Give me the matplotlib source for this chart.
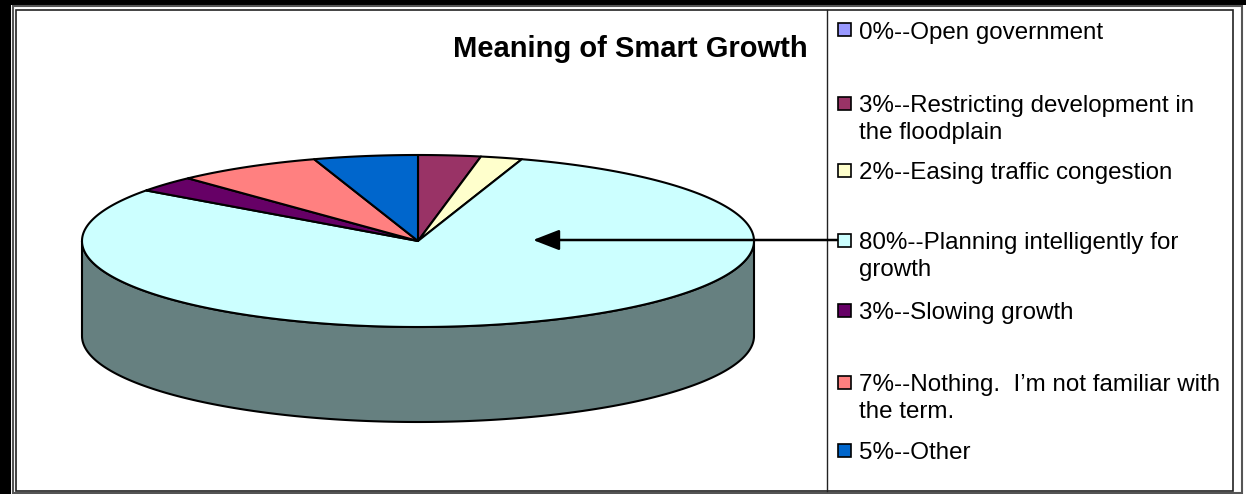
import numpy as np
import matplotlib
matplotlib.use("Agg")
import matplotlib.pyplot as plt
from matplotlib.patches import Polygon, Rectangle

plt.rcParams['font.family'] = ['Liberation Sans', 'DejaVu Sans']

# data
labels = ['0%--Open government',
          '3%--Restricting development in\nthe floodplain',
          '2%--Easing traffic congestion',
          '80%--Planning intelligently for\ngrowth',
          '3%--Slowing growth',
          '7%--Nothing.  I\u2019m not familiar with\nthe term.',
          '5%--Other']
values = [0, 3, 2, 80, 3, 7, 5]
colors = ['#9999FF', '#993366', '#FFFFCC', '#CCFFFF', '#660066', '#FF8080', '#0066CC']
side_color = '#668080'
title = 'Meaning of Smart Growth'

# layout in pixel units (y grows downward)
W, H = 1246, 494
cx, cy = 418, 241
rx, ry = 336, 86
depth = 95

fig = plt.figure(figsize=(W / 100, H / 100), dpi=100)
ax = fig.add_axes([0, 0, 1, 1])
ax.set_xlim(0, W)
ax.set_ylim(H, 0)
ax.axis('off')


def rim(theta):
    # theta in degrees, 0 at top, clockwise
    t = np.radians(theta)
    return cx + rx * np.sin(t), cy - ry * np.cos(t)


# frame
ax.add_patch(Rectangle((0, 0), W, 5, color='black', lw=0))
ax.add_patch(Rectangle((0, 0), 11, H, color='black', lw=0))
ax.add_patch(Rectangle((12.5, 6), 1242 - 12.5, 487, fill=False, ec='#555555', lw=1.5))
ax.add_patch(Rectangle((15.5, 10), 1233 - 15.5, 481, fill=False, ec='#222222', lw=1.2))
ax.plot([827, 827], [10, 491], color='#222222', lw=1.0)

# side wall (front half)
t = np.linspace(90, 270, 200)
xs, ys = rim(t)
side = np.column_stack([np.r_[xs, xs[::-1]], np.r_[ys, ys[::-1] + depth]])
ax.add_patch(Polygon(side, closed=True, fc=side_color, ec='black', lw=1.5))

# top slices
total = float(sum(values))
start = 0.0
for v, c in zip(values, colors):
    span = 360.0 * v / total
    if v > 0:
        t = np.linspace(start, start + span, max(int(span * 2), 4))
        xs, ys = rim(t)
        pts = np.column_stack([np.r_[cx, xs], np.r_[cy, ys]])
        ax.add_patch(Polygon(pts, closed=True, fc=c, ec='black', lw=1.5, joinstyle='round'))
    start += span

# title
ax.text(808, 57, title, ha='right', va='baseline', fontsize=21, fontweight='bold')

# legend
entry_y = [30, 103, 170, 240, 310, 382, 450]
for lab, c, y in zip(labels, colors, entry_y):
    ax.add_patch(Rectangle((837.5, y - 6.5), 13, 13, fc=c, ec='black', lw=1.2))
    for k, line in enumerate(lab.split('\n')):
        ax.text(859, y + 8.5 + 27 * k, line, ha='left', va='baseline', fontsize=17.4)

# arrow from legend entry to the big slice
ax.annotate('', xy=(533, 240), xytext=(837, 240),
            arrowprops=dict(arrowstyle='-|>,head_length=0.9,head_width=0.35',
                            color='black', lw=1.8, mutation_scale=18,
                            shrinkA=0, shrinkB=0))

fig.savefig('out.png', dpi=100)
